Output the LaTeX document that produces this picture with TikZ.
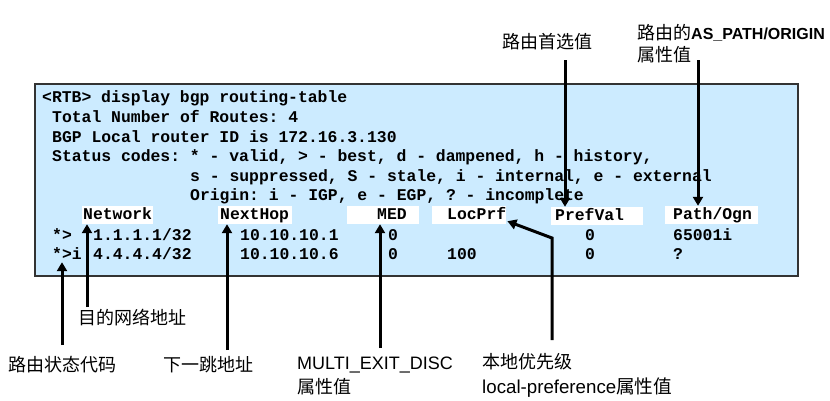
\documentclass[tikz,border=0pt]{standalone}
\usepackage{fontspec}
\setmainfont{Liberation Sans}
\setmonofont{Liberation Mono}
\newfontfamily\cjk{Noto Sans CJK SC}
\usetikzlibrary{arrows.meta}
\definecolor{tablefill}{RGB}{204,235,255}
\newcommand\hdrcell[3]{\makebox[#1][l]{\hspace*{#2}#3}}
\tikzstyle{every node}=[anchor=base west, inner sep=0pt]
\tikzstyle{cli}=[font={\fontsize{16.4}{19.7}\selectfont\ttfamily\bfseries}]
\tikzstyle{hdr}=[cli, fill=white, anchor=west, text height=11pt, text depth=3pt, inner ysep=2pt]
\tikzstyle{note}=[font={\fontsize{18}{24}\selectfont}]
\tikzstyle{tablebox}=[fill=tablefill, draw=black!80, line width=1.3pt]
\tikzstyle{pointer}=[line width=3pt, -{Triangle[length=9pt,width=10pt]}]
\begin{document}
\begin{tikzpicture}[x=1pt,y=-1pt]
    \useasboundingbox (0,0) rectangle (830,400);
    \draw[tablebox] (35,84) rectangle (798,276);

    \node [cli] (cmd)   at (42,102)  {<RTB> display bgp routing-table};
    \node [cli] (total) at (52,122)  {Total Number of Routes: 4};
    \node [cli] (rid)   at (52,142)  {BGP Local router ID is 172.16.3.130};
    \node [cli] (codes) at (52,161)  {Status codes: * - valid, > - best, d - dampened, h - history,};
    \node [cli] (codesb) at (190,181) {s - suppressed, S - stale, i - internal, e - external};
    \node [cli] (origin) at (190,200) {Origin: i - IGP, e - EGP, ? - incomplete};

    \node [hdr] (hnet)  at (82,215)  {\hdrcell{71pt}{1pt}{Network}};
    \node [hdr] (hhop)  at (218,215) {\hdrcell{74pt}{2pt}{NextHop}};
    \node [hdr] (hmed)  at (347,215) {\hdrcell{72pt}{30pt}{MED}};
    \node [hdr] (hloc)  at (432,215) {\hdrcell{74pt}{15pt}{LocPrf}};
    \node [hdr] (hpref) at (551,216) {\hdrcell{92pt}{4pt}{PrefVal}};
    \node [hdr] (hpath) at (665,215) {\hdrcell{93pt}{8pt}{Path/Ogn}};

    \node [cli] (r1flag) at (52,240)  {*>};
    \node [cli] (r1net)  at (93,240)  {1.1.1.1/32};
    \node [cli] (r1hop)  at (240,240) {10.10.10.1};
    \node [cli] (r1med)  at (388,240) {0};
    \node [cli] (r1pref) at (585,240) {0};
    \node [cli] (r1path) at (673,240) {65001i};

    \node [cli] (r2flag) at (52,259)  {*>i};
    \node [cli] (r2net)  at (93,259)  {4.4.4.4/32};
    \node [cli] (r2hop)  at (240,259) {10.10.10.6};
    \node [cli] (r2med)  at (388,259) {0};
    \node [cli] (r2loc)  at (447,259) {100};
    \node [cli] (r2pref) at (585,259) {0};
    \node [cli] (r2path) at (673,259) {?};

    \node [note] (lstat)    at (8,371.6)   {\cjk 路由状态代码};
    \node [note] (ldest)    at (78,324.6)  {\cjk 目的网络地址};
    \node [note] (lhop)     at (163,371.6) {\cjk 下一跳地址};
    \node [note] (lmed)     at (297,369.6) {MULTI\_EXIT\_DISC};
    \node [note] (lmedval)  at (297,393.6) {\cjk 属性值};
    \node [note] (lloc)     at (482,368.6) {\cjk 本地优先级};
    \node [note] (llocval)  at (482,393.6) {\fontsize{18.7}{24}\selectfont local-preference{\cjk 属性值}};
    \node [note] (lpref)    at (502,48.6)  {\cjk 路由首选值};
    \node [note] (lpath)    at (637,39.6)  {{\cjk 路由的}{\fontsize{16}{20}\selectfont\bfseries AS\_PATH/ORIGIN}};
    \node [note] (lpathval) at (637,61.6)  {\cjk 属性值};

    \coordinate (tstat) at (62,345);
    \coordinate (tdest) at (87,307);
    \coordinate (thop)  at (227,350);
    \coordinate (tmed)  at (380,348);
    \coordinate (tloc)  at (552,340);
    \coordinate (bloc)  at (552,238);
    \coordinate (tpref) at (565,60);
    \coordinate (tpath) at (698,60);

    \draw [pointer] (tstat) -- ([shift={(10pt,-3pt)}]r2flag.south west);
    \draw [pointer] (tdest) -- ([xshift=5pt]hnet.south west);
    \draw [pointer] (thop) -- ([xshift=9pt]hhop.south west);
    \draw [pointer] (tmed) -- ([xshift=33pt]hmed.south west);
    \draw [pointer] (tloc) -- (bloc) -- ([shift={(1pt,3pt)}]hloc.south east);
    \draw [pointer] (tpref) -- ([xshift=14pt]hpref.north west);
    \draw [pointer] (tpath) -- ([xshift=33pt]hpath.north west);
\end{tikzpicture}
\end{document}
